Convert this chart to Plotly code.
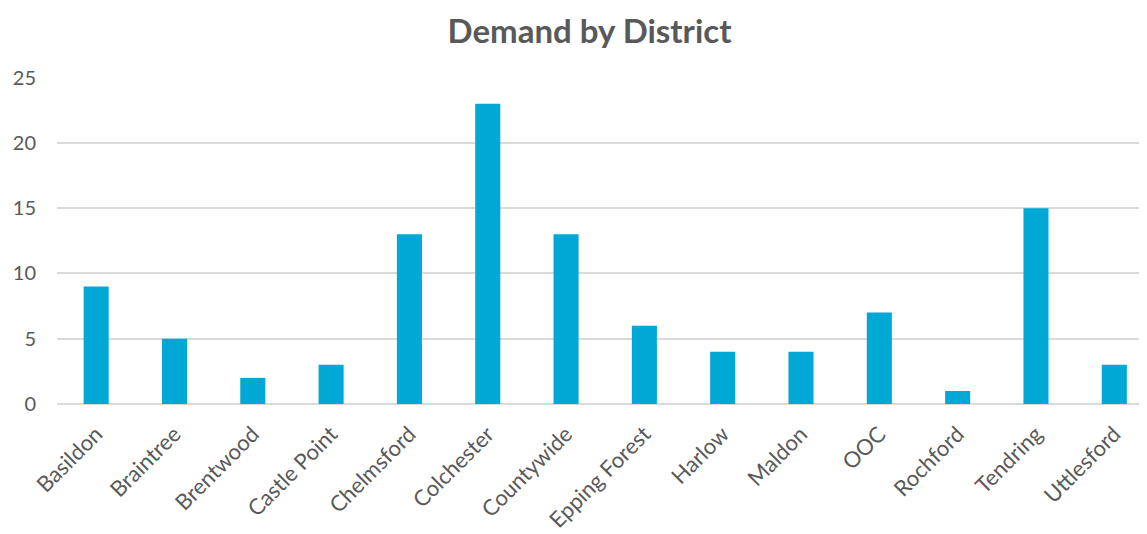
import plotly.graph_objects as go

districts = ["Basildon", "Braintree", "Brentwood", "Castle Point", "Chelmsford",
             "Colchester", "Countywide", "Epping Forest", "Harlow", "Maldon",
             "OOC", "Rochford", "Tendring", "Uttlesford"]
demand = [9, 5, 2, 3, 13, 23, 13, 6, 4, 4, 7, 1, 15, 3]
y_ticks = [0, 5, 10, 15, 20, 25]

fig = go.Figure(go.Bar(
    x=districts, y=demand,
    marker=dict(color="#00A8D6", line=dict(width=0)),
    width=0.32,
))

fig.update_layout(
    width=1147, height=534,
    margin=dict(l=49, r=0, t=69, b=138),
    paper_bgcolor="white", plot_bgcolor="white",
    title=dict(text="Demand by District", x=0.507, xanchor="center", y=0.956, yanchor="middle",
               font=dict(family="Lato, sans-serif", size=33, color="#595959", weight="bold")),
    font=dict(family="Lato, sans-serif", color="#595959", size=16),
    showlegend=False,
    xaxis=dict(type="category", range=[-0.5, 13.52], tickangle=-45,
               showgrid=False, showline=False, ticks="", ticklabelstandoff=12,
               tickfont=dict(size=22, color="#595959")),
    yaxis=dict(range=[0, 25.05], tickvals=y_ticks, showgrid=True, gridcolor="#d9d9d9",
               gridwidth=1.5, zeroline=True, zerolinecolor="#d9d9d9", zerolinewidth=1.5,
               showline=False, ticks="", ticklen=0, ticklabelstandoff=20,
               tickfont=dict(size=20, color="#595959")),
)

fig.write_html("out.html")
